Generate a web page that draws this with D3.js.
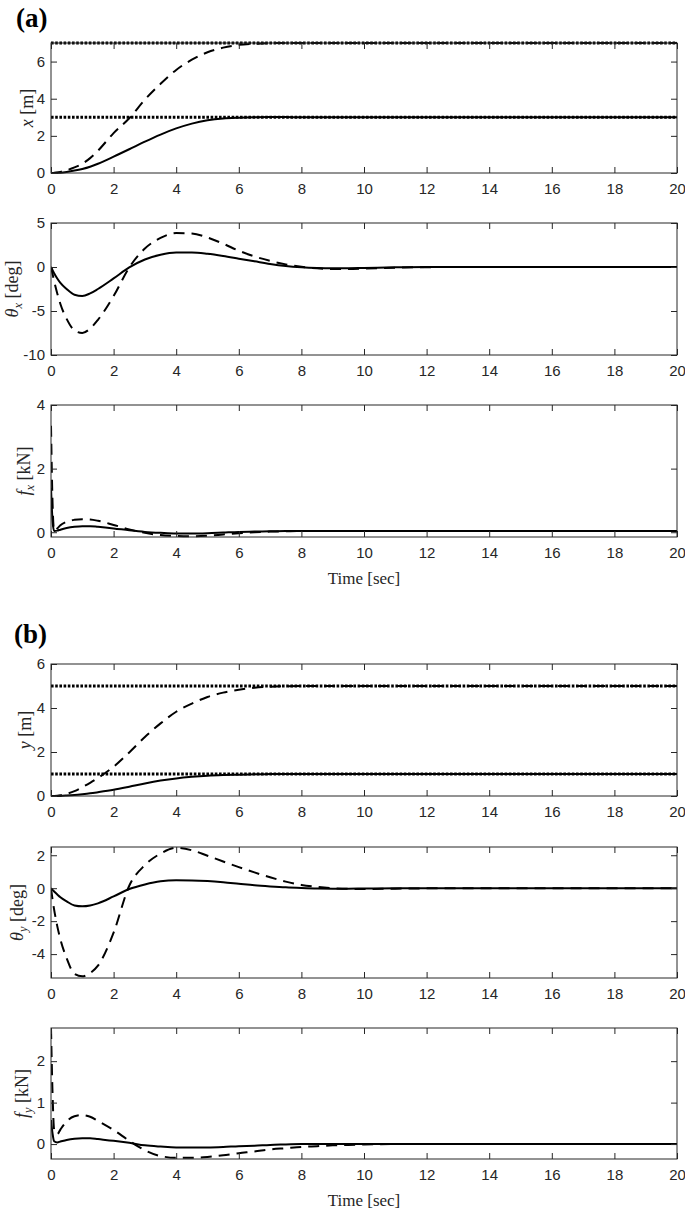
<!DOCTYPE html>
<html>
<head>
<meta charset="utf-8">
<script src="https://cdn.jsdelivr.net/npm/d3@7"></script>
<style>
  body { margin: 0; background: #fff; }
  svg { display: block; }
</style>
</head>
<body>
<svg id="chart" width="685" height="1212"></svg>
<script>
// ---------- DATA ----------
const T = [0, 0.05, 0.1, 0.2, 0.3, 0.5, 0.75, 1, 1.25, 1.5, 2, 2.5, 3, 3.5, 4, 4.5, 5, 5.5, 6, 6.5, 7, 7.5, 8, 8.5, 9, 9.5, 10, 11, 12, 14, 16, 18, 20];

const xSolid   = [0, 0, 0.005, 0.01, 0.02, 0.06, 0.13, 0.22, 0.34, 0.5, 0.88, 1.28, 1.69, 2.07, 2.4, 2.66, 2.84, 2.94, 2.98, 3.0, 3.01, 3.01, 3.0, 3.0, 3.0, 3.0, 3.0, 3.0, 3.0, 3.0, 3.0, 3.0, 3.0];
const xDashed  = [0, 0, 0.01, 0.03, 0.06, 0.15, 0.3, 0.5, 0.8, 1.2, 2.15, 2.95, 3.95, 4.8, 5.55, 6.1, 6.5, 6.75, 6.9, 6.96, 6.99, 7.0, 7.0, 7.0, 7.0, 7.0, 7.0, 7.0, 7.0, 7.0, 7.0, 7.0, 7.0];
const xRef     = [3, 7];

const thxSolid  = [0, -0.35, -0.7, -1.3, -1.8, -2.5, -3.15, -3.3, -3.0, -2.5, -1.3, -0.05, 0.85, 1.4, 1.65, 1.65, 1.5, 1.25, 0.95, 0.65, 0.35, 0.12, -0.02, -0.1, -0.13, -0.13, -0.1, -0.04, 0, 0.01, 0, 0, 0];
const thxDashed = [0, -0.8, -1.6, -3.0, -4.2, -5.9, -7.2, -7.5, -7.0, -6.0, -3.3, -0.05, 2.1, 3.3, 3.85, 3.8, 3.35, 2.65, 1.85, 1.2, 0.7, 0.3, 0.02, -0.15, -0.22, -0.22, -0.18, -0.08, -0.02, 0.01, 0, 0, 0];

const fxSolid  = [1.4, 0.35, 0.04, 0.05, 0.08, 0.13, 0.17, 0.19, 0.19, 0.17, 0.12, 0.06, 0.01, -0.02, -0.04, -0.04, -0.03, -0.01, 0.01, 0.02, 0.03, 0.04, 0.04, 0.04, 0.04, 0.04, 0.04, 0.04, 0.04, 0.04, 0.04, 0.04, 0.04];
const fxDashed = [3.35, 0.9, 0.05, 0.12, 0.22, 0.33, 0.39, 0.41, 0.4, 0.36, 0.23, 0.09, -0.02, -0.09, -0.12, -0.13, -0.11, -0.07, -0.03, 0.0, 0.02, 0.03, 0.04, 0.04, 0.04, 0.04, 0.04, 0.04, 0.04, 0.04, 0.04, 0.04, 0.04];

const ySolid   = [0, 0, 0, 0.002, 0.005, 0.02, 0.045, 0.08, 0.12, 0.17, 0.28, 0.42, 0.57, 0.7, 0.8, 0.87, 0.92, 0.95, 0.97, 0.985, 0.995, 1, 1, 1, 1, 1, 1, 1, 1, 1, 1, 1, 1];
const yDashed  = [0, 0, 0.002, 0.01, 0.03, 0.1, 0.22, 0.4, 0.6, 0.82, 1.33, 1.98, 2.68, 3.3, 3.83, 4.2, 4.5, 4.7, 4.83, 4.92, 4.97, 4.99, 5, 5, 5, 5, 5, 5, 5, 5, 5, 5, 5];
const yRef     = [1, 5];

const thySolid  = [0, -0.1, -0.2, -0.38, -0.55, -0.8, -1.05, -1.1, -1.05, -0.92, -0.5, -0.05, 0.23, 0.42, 0.48, 0.47, 0.43, 0.36, 0.27, 0.18, 0.11, 0.05, 0.01, -0.02, -0.03, -0.03, -0.02, -0.01, 0, 0, 0, 0, 0];
const thyDashed = [0, -0.7, -1.3, -2.3, -3.1, -4.25, -5.2, -5.35, -5.15, -4.7, -2.7, 0.15, 1.4, 2.1, 2.45, 2.3, 1.97, 1.62, 1.28, 0.96, 0.66, 0.4, 0.2, 0.08, 0.0, -0.04, -0.05, -0.03, -0.01, 0, 0, 0, 0];

const fySolid  = [0.58, 0.25, 0.07, 0.04, 0.06, 0.1, 0.13, 0.14, 0.14, 0.12, 0.08, 0.03, -0.03, -0.06, -0.08, -0.08, -0.08, -0.07, -0.05, -0.04, -0.02, -0.01, 0, 0, 0, 0, 0, 0, 0, 0, 0, 0, 0];
const fyDashed = [2.8, 1.2, 0.35, 0.24, 0.35, 0.55, 0.67, 0.7, 0.66, 0.56, 0.34, 0.08, -0.15, -0.29, -0.33, -0.33, -0.31, -0.27, -0.22, -0.18, -0.13, -0.1, -0.07, -0.05, -0.03, -0.02, -0.01, 0, 0, 0, 0, 0, 0];

const timeTicks = [0, 2, 4, 6, 8, 10, 12, 14, 16, 18, 20];
const xTicks   = [0, 2, 4, 6];
const thxTicks = [-10, -5, 0, 5];
const fxTicks  = [0, 2, 4];
const yTicks   = [0, 2, 4, 6];
const thyTicks = [-4, -2, 0, 2];
const fyTicks  = [0, 1, 2];

// ---------- LAYOUT ----------
const svg = d3.select("#chart");
const L = 51, R = 677;
const axisColor = "#262626";
const tickFont = "'Liberation Sans', Arial, sans-serif";
const serif = "'Liberation Serif', 'Times New Roman', serif";

const panels = [
  {top: 43,  bottom: 173, domain: [0, 7],       ticks: xTicks,   solid: xSolid,   dashed: xDashed,   refs: xRef, sym: "x", sub: null, unit: "[m]",   lx: 27, timeLabel: false},
  {top: 223, bottom: 355, domain: [-10, 5],     ticks: thxTicks, solid: thxSolid, dashed: thxDashed, refs: [],   sym: "θ", sub: "x", unit: "[deg]", lx: 12, timeLabel: false},
  {top: 405, bottom: 537, domain: [-0.15, 4],   ticks: fxTicks,  solid: fxSolid,  dashed: fxDashed,  refs: [],   sym: "f", sub: "x", unit: "[kN]",  lx: 24, timeLabel: true},
  {top: 664, bottom: 796, domain: [0, 6],       ticks: yTicks,   solid: ySolid,   dashed: yDashed,   refs: yRef, sym: "y", sub: null, unit: "[m]",   lx: 25, timeLabel: false},
  {top: 847, bottom: 978, domain: [-5.45, 2.5], ticks: thyTicks, solid: thySolid, dashed: thyDashed, refs: [],   sym: "θ", sub: "y", unit: "[deg]", lx: 17, timeLabel: false},
  {top: 1028, bottom: 1159, domain: [-0.36, 2.8], ticks: fyTicks, solid: fySolid, dashed: fyDashed, refs: [],   sym: "f", sub: "y", unit: "[kN]",  lx: 22, timeLabel: true}
];

const xScale = d3.scaleLinear().domain([0, 20]).range([L, R]);

panels.forEach((p, i) => {
  const yScale = d3.scaleLinear().domain(p.domain).range([p.bottom, p.top]);
  const g = svg.append("g");
  const clipId = "clip" + i;
  svg.append("clipPath").attr("id", clipId)
    .append("rect").attr("x", L).attr("y", p.top - 2).attr("width", R - L).attr("height", p.bottom - p.top + 4);

  const plot = g.append("g").attr("clip-path", `url(#${clipId})`);

  const line = d3.line().x((d, j) => xScale(T[j])).y(d => yScale(d)).curve(d3.curveMonotoneX);

  plot.append("path").datum(p.dashed)
    .attr("d", line).attr("fill", "none")
    .attr("stroke", "#000").attr("stroke-width", 2)
    .attr("stroke-dasharray", "11,7");

  plot.append("path").datum(p.solid)
    .attr("d", line).attr("fill", "none")
    .attr("stroke", "#000").attr("stroke-width", 2);

  // reference (dotted) lines
  p.refs.forEach(v => {
    plot.append("line")
      .attr("x1", xScale(0)).attr("x2", xScale(20))
      .attr("y1", yScale(v)).attr("y2", yScale(v))
      .attr("stroke", "#000").attr("stroke-width", 3)
      .attr("stroke-dasharray", "2.6,1.6");
  });

  // axes
  const styleAxis = sel => {
    sel.select(".domain").remove();
    sel.selectAll(".tick line").attr("stroke", axisColor).attr("stroke-width", 1);
    sel.selectAll(".tick text").attr("fill", axisColor).style("font-family", tickFont).style("font-size", "15px");
  };

  g.append("g").attr("transform", `translate(0,${p.bottom})`)
    .call(d3.axisBottom(xScale).tickValues(timeTicks).tickSize(-6).tickPadding(10).tickFormat(d3.format("d")))
    .call(styleAxis);
  g.append("g").attr("transform", `translate(0,${p.top})`)
    .call(d3.axisTop(xScale).tickValues(timeTicks).tickSize(-6).tickFormat(""))
    .call(styleAxis);
  g.append("g").attr("transform", `translate(${L},0)`)
    .call(d3.axisLeft(yScale).tickValues(p.ticks).tickSize(-6).tickPadding(6).tickFormat(d3.format("d")))
    .call(styleAxis);
  g.append("g").attr("transform", `translate(${R},0)`)
    .call(d3.axisRight(yScale).tickValues(p.ticks).tickSize(-6).tickFormat(""))
    .call(styleAxis);

  g.selectAll(".tick text").text(function() { return d3.select(this).text().replace("−", "-"); });

  g.append("rect")
    .attr("x", L).attr("y", p.top).attr("width", R - L).attr("height", p.bottom - p.top)
    .attr("fill", "none").attr("stroke", axisColor).attr("stroke-width", 1);

  // y label
  const cy = (p.top + p.bottom) / 2;
  const lab = g.append("text")
    .attr("transform", `translate(${p.lx},${cy}) rotate(-90)`)
    .attr("text-anchor", "middle").attr("dy", "0.35em")
    .attr("fill", axisColor)
    .style("font-family", serif).style("font-size", "18px");
  lab.append("tspan").style("font-style", "italic").text(p.sym);
  if (p.sub) {
    lab.append("tspan").style("font-style", "italic").style("font-size", "12.5px").attr("dy", "4").text(p.sub);
    lab.append("tspan").attr("dy", "-4").text("\u00a0" + p.unit);
  } else {
    lab.append("tspan").text("\u00a0" + p.unit);
  }

  if (p.timeLabel) {
    g.append("text")
      .attr("x", (L + R) / 2).attr("y", p.bottom + 47)
      .attr("text-anchor", "middle").attr("fill", axisColor)
      .style("font-family", serif).style("font-size", "17px")
      .text("Time [sec]");
  }
});

// panel letters
svg.append("text").attr("x", 16).attr("y", 27)
  .style("font-family", serif).style("font-weight", "bold").style("font-size", "27px")
  .text("(a)");
svg.append("text").attr("x", 14).attr("y", 643)
  .style("font-family", serif).style("font-weight", "bold").style("font-size", "27px")
  .text("(b)");
</script>
</body>
</html>
